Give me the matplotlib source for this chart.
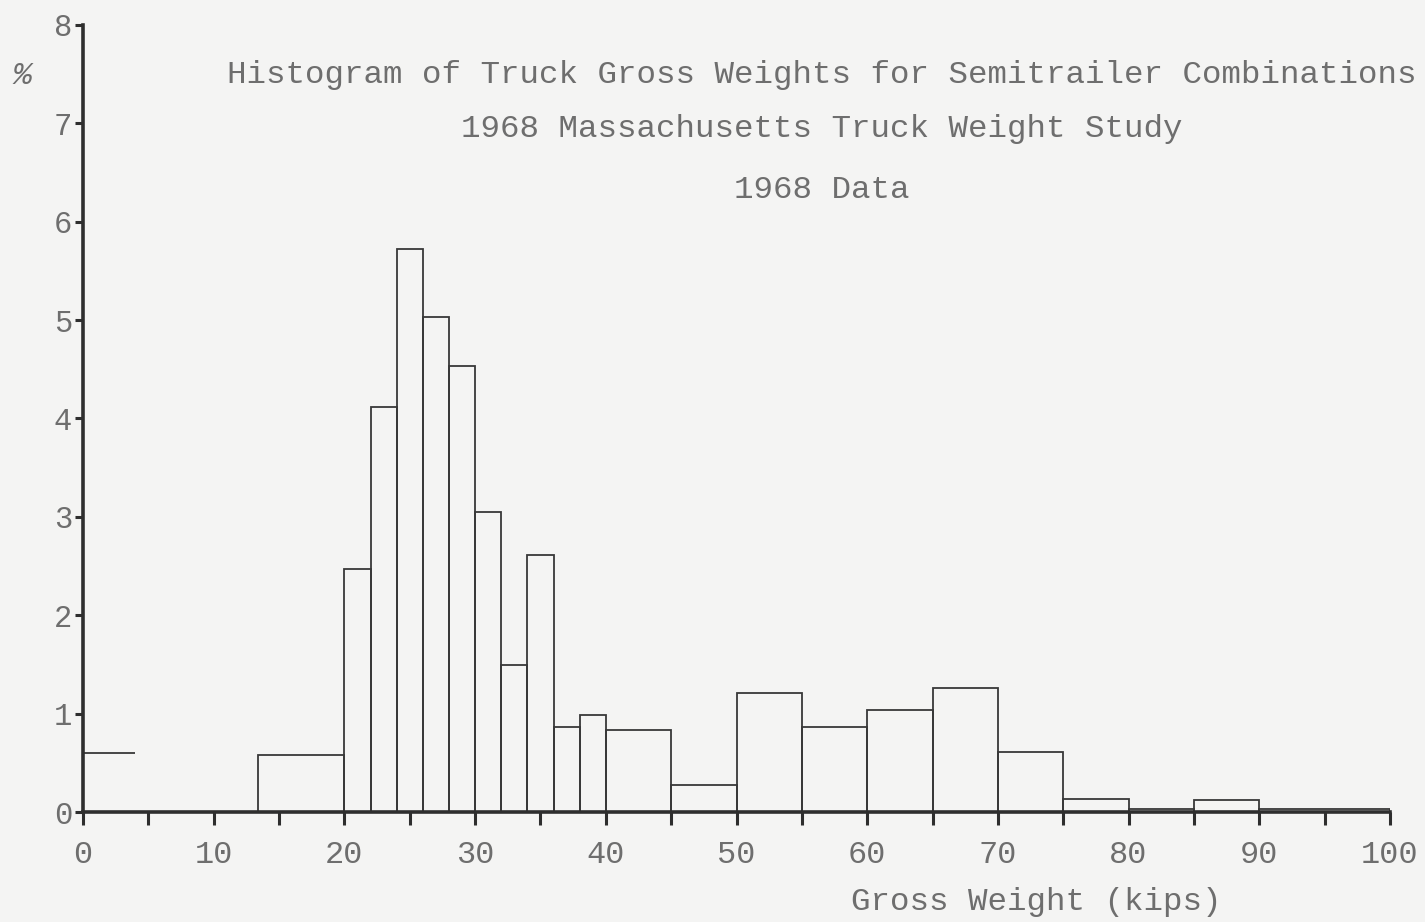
import matplotlib
matplotlib.use("Agg")
import matplotlib.pyplot as plt
from matplotlib.ticker import MultipleLocator

# Bin edges (kips) and percent of trucks in each bin
bin_left = [13.4, 20, 22, 24, 26, 28, 30, 32, 34, 36, 38, 40, 45, 50, 55, 60, 65, 70, 75, 80, 85, 90]
bin_right = [20, 22, 24, 26, 28, 30, 32, 34, 36, 38, 40, 45, 50, 55, 60, 65, 70, 75, 80, 85, 90, 100]
percent = [0.58, 2.47, 4.12, 5.72, 5.03, 4.53, 3.05, 1.49, 2.61, 0.86, 0.99, 0.83, 0.27,
           1.21, 0.86, 1.04, 1.26, 0.61, 0.13, 0.03, 0.12, 0.03]

# Lowest class drawn only as a level segment
low_start, low_end, low_percent = 0, 4, 0.60

title_lines = ["Histogram of Truck Gross Weights for Semitrailer Combinations",
               "1968 Massachusetts Truck Weight Study",
               "1968 Data"]
x_label = "Gross Weight (kips)"
y_label = "%"

bg = "#f4f4f3"
ink = "#2e2e2e"
text_col = "#6e6e6e"
font = "Liberation Mono"

fig = plt.figure(figsize=(14.25, 9.22), dpi=100, facecolor=bg)
ax = fig.add_axes([83 / 1425, 1 - 812 / 922, (1390 - 83) / 1425, (812 - 25) / 922])
ax.set_facecolor(bg)

widths = [r - l for l, r in zip(bin_left, bin_right)]
ax.bar(bin_left, percent, width=widths, align="edge", fill=False,
       edgecolor="#383838", linewidth=1.3, zorder=2)
ax.hlines(low_percent, low_start, low_end, color="#383838", linewidth=1.3, zorder=2)

ax.set_xlim(0, 100)
ax.set_ylim(0, 8)
for s in ("top", "right"):
    ax.spines[s].set_visible(False)
for s in ("left", "bottom"):
    ax.spines[s].set_color(ink)
    ax.spines[s].set_linewidth(2.6)
    ax.spines[s].set_zorder(3)

ax.xaxis.set_major_locator(MultipleLocator(10))
ax.xaxis.set_minor_locator(MultipleLocator(5))
ax.yaxis.set_major_locator(MultipleLocator(1))
ax.tick_params(axis="x", which="both", direction="out", length=9, width=2.2,
               color=ink, pad=11, labelsize=23, labelcolor=text_col)
ax.tick_params(axis="y", which="major", direction="out", length=6, width=2.2,
               color=ink, pad=2, labelsize=22, labelcolor=text_col)
for lab in ax.get_xticklabels() + ax.get_yticklabels():
    lab.set_fontfamily(font)

cx = 822 / 1425
for txt, ypix in zip(title_lines, [75, 129, 190]):
    fig.text(cx, 1 - ypix / 922, txt, ha="center", va="center",
             fontsize=23.4, family=font, color=text_col)
fig.text(1036 / 1425, 1 - 902 / 922, x_label, ha="center", va="center",
         fontsize=23.4, family=font, color=text_col)
fig.text(22 / 1425, 1 - 76 / 922, y_label, ha="center", va="center",
         fontsize=23, family=font, color=text_col, style="italic")

fig.savefig("out.png", dpi=100, facecolor=bg)
